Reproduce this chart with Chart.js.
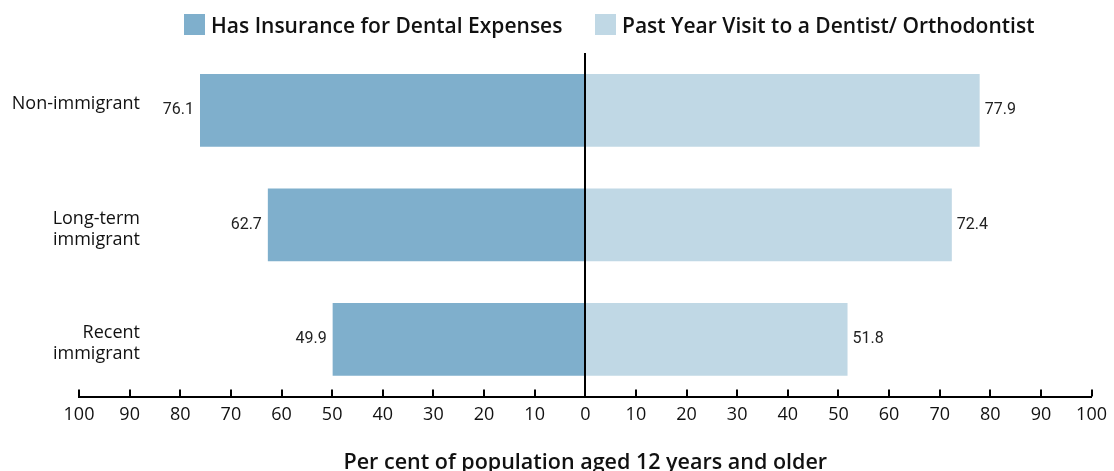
<!DOCTYPE html>
<html>
<head>
<meta charset="utf-8">
<script src="https://cdn.jsdelivr.net/npm/chart.js@4"></script>
<style>
  body { margin: 0; background: #fff; }
  #wrap { position: relative; width: 1114px; height: 471px; }
  .item { position: absolute; top: 14px; height: 21px; display: flex; align-items: center;
          font-family: "Open Sans", sans-serif; font-weight: 600; font-size: 21px; color: #111; white-space: nowrap; }
  .item .box { display: inline-block; width: 21px; height: 21px; margin-right: 6px; }
</style>
</head>
<body>
<div id="wrap">
  <div id="legend"></div>
  <canvas id="dentalChart" width="1114" height="471"></canvas>
</div>
<script>
// categories and values
const categories = [['Non-immigrant'], ['Long-term', 'immigrant'], ['Recent', 'immigrant']];
const insuranceValues = [76.1, 62.7, 49.9];
const visitValues = [77.9, 72.4, 51.8];
const seriesNames = ['Has Insurance for Dental Expenses', 'Past Year Visit to a Dentist/ Orthodontist'];
const seriesColors = ['#7fafcc', '#c0d8e5'];
const axisTitle = 'Per cent of population aged 12 years and older';

// html legend, each entry placed where the original has it
const legendLeft = [184, 595];
const legendEl = document.getElementById('legend');
seriesNames.forEach((name, i) => {
    const item = document.createElement('div');
    item.className = 'item';
    item.style.left = legendLeft[i] + 'px';
    item.innerHTML = '<span class="box" style="background:' + seriesColors[i] + '"></span>' + name;
    legendEl.appendChild(item);
});

// category labels, zero line, inward tick marks, value labels
const extras = {
    id: 'extras',
    afterDatasetsDraw(chart) {
        const ctx = chart.ctx;
        const x = chart.scales.x;
        const y = chart.scales.y;
        const area = chart.chartArea;

        ctx.save();
        ctx.fillStyle = '#111';
        ctx.font = '18px "Open Sans", sans-serif';
        ctx.textAlign = 'right';
        ctx.textBaseline = 'alphabetic';
        chart.data.labels.forEach((lines, i) => {
            const py = y.getPixelForTick(i);
            lines.forEach((line, k) => ctx.fillText(line, 140, py - 1 + k * 21));
        });

        ctx.fillStyle = '#222';
        ctx.font = '16px Roboto, sans-serif';
        ctx.textBaseline = 'middle';
        chart.data.datasets.forEach((ds, i) => {
            chart.getDatasetMeta(i).data.forEach((bar, j) => {
                const v = ds.data[j];
                ctx.textAlign = v < 0 ? 'right' : 'left';
                ctx.fillText(Math.abs(v).toFixed(1), bar.x + (v < 0 ? -6 : 5), bar.y);
            });
        });

        ctx.strokeStyle = '#000';
        ctx.lineWidth = 2;
        const x0 = Math.round(x.getPixelForValue(0));
        ctx.beginPath();
        ctx.moveTo(x0, area.top);
        ctx.lineTo(x0, area.bottom);
        ctx.stroke();

        x.ticks.forEach(t => {
            const px = Math.round(x.getPixelForValue(t.value));
            ctx.beginPath();
            ctx.moveTo(px, area.bottom);
            ctx.lineTo(px, area.bottom - 7);
            ctx.stroke();
        });
        ctx.restore();
    }
};

new Chart(document.getElementById('dentalChart'), {
    type: 'bar',
    data: {
        labels: categories,
        datasets: [
            { label: seriesNames[0], data: insuranceValues.map(v => -v), backgroundColor: seriesColors[0] },
            { label: seriesNames[1], data: visitValues, backgroundColor: seriesColors[1] }
        ]
    },
    options: {
        indexAxis: 'y',
        responsive: false,
        animation: false,
        layout: { autoPadding: false, padding: { top: 53, right: 20, bottom: 0, left: 0 } },
        datasets: { bar: { categoryPercentage: 0.635, barPercentage: 1 } },
        plugins: { legend: { display: false }, tooltip: { enabled: false } },
        scales: {
            x: {
                stacked: true,
                min: -100,
                max: 100,
                ticks: {
                    stepSize: 10,
                    padding: 7,
                    color: '#111',
                    font: { family: '"Open Sans", sans-serif', size: 18 },
                    callback: v => Math.abs(v)
                },
                grid: { display: false, drawTicks: false },
                border: { display: true, color: '#000', width: 2 },
                title: {
                    display: true,
                    text: axisTitle,
                    color: '#111',
                    font: { family: '"Open Sans", sans-serif', size: 21.5, weight: 600 },
                    padding: { top: 18, bottom: -5 }
                }
            },
            y: {
                stacked: true,
                grid: { display: false, drawTicks: false },
                border: { display: false },
                ticks: { display: false },
                afterFit(scale) { scale.width = 79; }
            }
        }
    },
    plugins: [extras]
});
</script>
</body>
</html>
